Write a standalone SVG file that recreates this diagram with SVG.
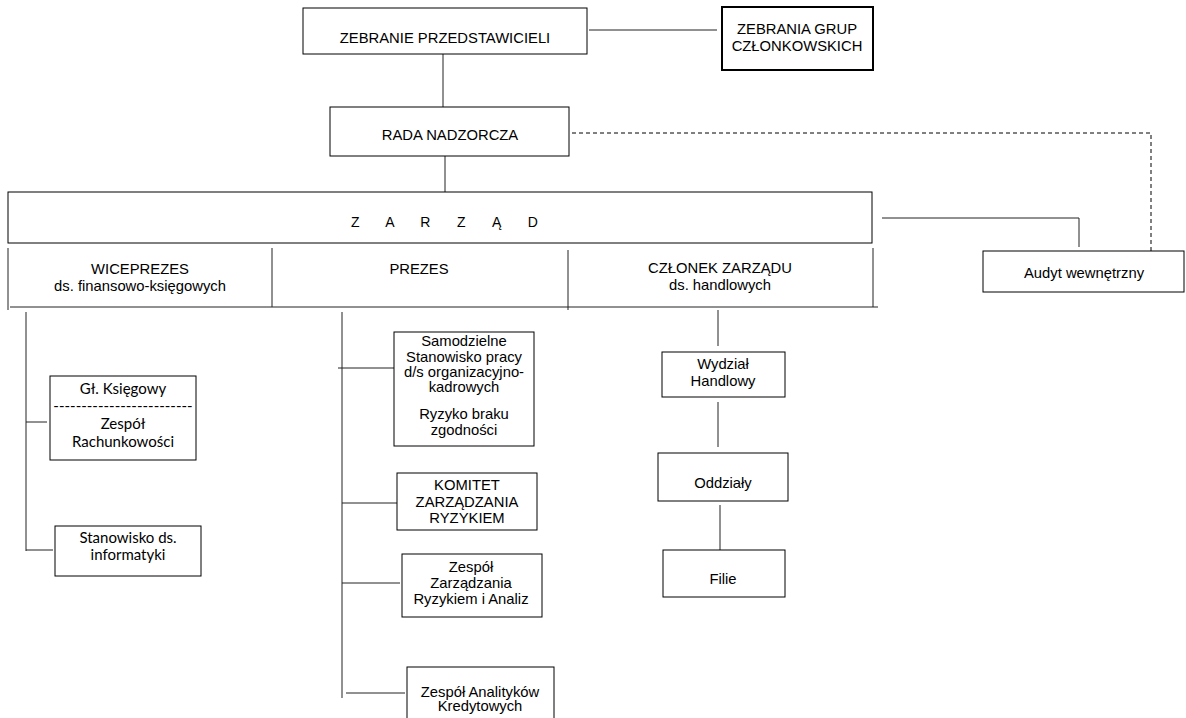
<svg xmlns="http://www.w3.org/2000/svg" width="1186" height="718" viewBox="0 0 1186 718">
<style>
.box{fill:#fff;stroke:#000;stroke-width:1}
.thick{fill:#fff;stroke:#000;stroke-width:2}
.ln{fill:none;stroke:#222;stroke-width:1}
.dash{fill:none;stroke:#000;stroke-width:1;stroke-dasharray:4 3}
text{font-family:"Liberation Sans",Arial,sans-serif;font-size:14.8px;fill:#000;text-anchor:middle}
.cal{font-family:Lato,"Liberation Sans",sans-serif;font-size:15px}
</style>
<rect width="1186" height="718" fill="#fff"/>
<g id="connectors">
<line class="ln" x1="589" y1="30" x2="717" y2="30"/>
<line class="ln" x1="443" y1="54" x2="443" y2="107"/>
<line class="ln" x1="445" y1="156" x2="445" y2="192"/>
<polyline class="dash" points="572,133 1151,133 1151,251"/>
<polyline class="ln" points="882,218 1079,218 1079,247"/>
<line class="ln" x1="26" y1="312" x2="26" y2="551"/>
<line class="ln" x1="26" y1="422" x2="47" y2="422"/>
<line class="ln" x1="26" y1="550" x2="53" y2="550"/>
<line class="ln" x1="342" y1="312" x2="342" y2="698"/>
<line class="ln" x1="338" y1="368" x2="394" y2="368"/>
<line class="ln" x1="342" y1="503" x2="397" y2="503"/>
<line class="ln" x1="342" y1="583" x2="400" y2="583"/>
<line class="ln" x1="346" y1="693" x2="405" y2="693"/>
<line class="ln" x1="718" y1="310" x2="718" y2="346"/>
<line class="ln" x1="718" y1="402" x2="718" y2="447"/>
<line class="ln" x1="720" y1="505" x2="720" y2="550"/>
</g>
<g id="zebranie">
<rect class="box" x="303" y="8" width="284" height="46"/>
<text x="445" y="43">ZEBRANIE PRZEDSTAWICIELI</text>
</g>
<g id="zebrania-grup">
<rect class="thick" x="722" y="7" width="151" height="63"/>
<text x="797" y="34">ZEBRANIA GRUP</text>
<text x="797" y="51">CZŁONKOWSKICH</text>
</g>
<g id="rada">
<rect class="box" x="330" y="107" width="239" height="49"/>
<text x="450" y="140">RADA NADZORCZA</text>
</g>
<g id="zarzad">
<rect class="box" x="8" y="192" width="864" height="51"/>
<text x="351" y="227" style="text-anchor:start;font-size:14px;letter-spacing:11.3px">Z A R Z Ą D</text>
</g>
<g id="zarzad-row">
<line class="ln" x1="8" y1="248" x2="8" y2="310"/>
<line class="ln" x1="272" y1="248" x2="272" y2="307"/>
<line class="ln" x1="568" y1="250" x2="568" y2="310"/>
<line class="ln" x1="873" y1="248" x2="873" y2="307"/>
<line class="ln" x1="10" y1="307" x2="878" y2="307"/>
</g>
<g id="wiceprezes">
<text x="140" y="274">WICEPREZES</text>
<text x="140" y="291">ds. finansowo-księgowych</text>
</g>
<g id="prezes">
<text x="419" y="274">PREZES</text>
</g>
<g id="czlonek">
<text x="720" y="273">CZŁONEK ZARZĄDU</text>
<text x="720" y="290">ds. handlowych</text>
</g>
<g id="audyt">
<rect class="box" x="983" y="251" width="201" height="41"/>
<text x="1084" y="278">Audyt wewnętrzny</text>
</g>
<g id="gl-ksiegowy">
<rect class="box" x="50" y="376" width="146" height="84"/>
<text class="cal" x="123" y="394">Gł. Księgowy</text>
<text class="cal" x="123" y="411">-------------------------</text>
<text class="cal" x="123" y="429">Zespół</text>
<text class="cal" x="123" y="447">Rachunkowości</text>
</g>
<g id="informatyka">
<rect class="box" x="55" y="526" width="146" height="50"/>
<text class="cal" x="128" y="543">Stanowisko ds.</text>
<text class="cal" x="128" y="560">informatyki</text>
</g>
<g id="samodzielne">
<rect class="box" x="394" y="332" width="140" height="114"/>
<text x="464" y="346">Samodzielne</text>
<text x="464" y="362">Stanowisko pracy</text>
<text x="464" y="377">d/s organizacyjno-</text>
<text x="464" y="392">kadrowych</text>
<text x="464" y="419">Ryzyko braku</text>
<text x="464" y="435">zgodności</text>
</g>
<g id="komitet">
<rect class="box" x="397" y="473" width="140" height="57"/>
<text x="467" y="490">KOMITET</text>
<text x="467" y="507">ZARZĄDZANIA</text>
<text x="467" y="523">RYZYKIEM</text>
</g>
<g id="zespol-zarzadzania">
<rect class="box" x="402" y="554" width="140" height="63"/>
<text x="471" y="572">Zespół</text>
<text x="471" y="588">Zarządzania</text>
<text x="471" y="604">Ryzykiem i Analiz</text>
</g>
<g id="zespol-analitykow">
<rect class="box" x="407" y="667" width="147" height="60"/>
<text x="480" y="697">Zespół Analityków</text>
<text x="480" y="711">Kredytowych</text>
</g>
<g id="wydzial">
<rect class="box" x="662" y="352" width="123" height="45"/>
<text x="723" y="369">Wydział</text>
<text x="723" y="386">Handlowy</text>
</g>
<g id="oddzialy">
<rect class="box" x="658" y="453" width="130" height="48"/>
<text x="723" y="488">Oddziały</text>
</g>
<g id="filie">
<rect class="box" x="663" y="550" width="122" height="47"/>
<text x="723" y="584">Filie</text>
</g>
</svg>
